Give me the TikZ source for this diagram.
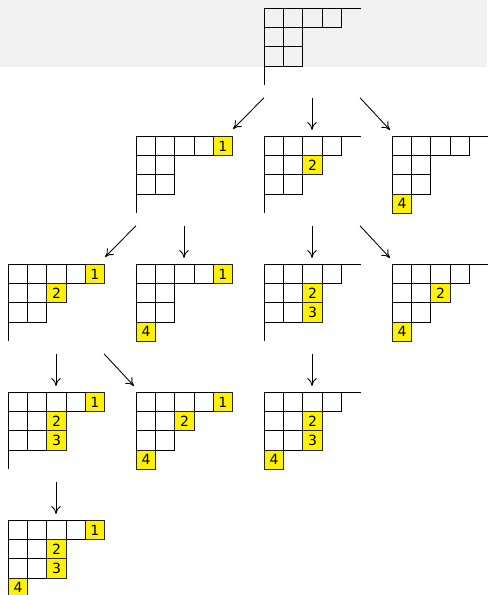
\documentclass[tikz,border=0pt]{standalone}
\usepackage{fontspec}
\setmainfont{DejaVu Sans}
\usetikzlibrary{calc,arrows.meta}
\definecolor{band}{HTML}{F1F1F1}
\tikzset{
  grid/.style={line width=0.75pt,draw=black},
  dbox/.style={inner sep=0pt,outer sep=0pt,minimum width=72pt,minimum height=57.6pt},
  ycell/.style={draw=black!85,line width=0.75pt,fill=yellow,inner sep=0pt,minimum size=14.4pt,font=\fontsize{10.5}{11}\selectfont},
  arr/.style={line width=0.65pt,-{To[length=6pt,width=7pt]}}
}
\newcommand\dg[3]{%
  \node[dbox] (#1) at (#2+48,#3+38.4) {};
  \begin{scope}[shift={(#2+0.5,#3+0.5)}]
    \draw[grid] (0,0)--(96,0) (0,0)--(0,76.8);
    \foreach \r/\c in {0/0,0/1,0/2,0/3,1/0,1/1,2/0,2/1}
      \draw[grid] (\c*19.2,\r*19.2) rectangle ++(19.2,19.2);
  \end{scope}}
\newcommand\yc[4]{%
  \node[ycell] (#1y#4) at ($(#1.north west)+(#3*19.2+10.1,#2*19.2+10.1)$) {#4};}
\begin{document}
\begin{tikzpicture}[x=0.75pt,y=-0.75pt]
\useasboundingbox (0,0) rectangle (487,595);
\fill[band] (0,0) rectangle (487,67);
% row 0
\dg{T}{264}{8}
% row 1
\dg{Aa}{136}{136} \yc{Aa}{0}{4}{1}
\dg{Ab}{264}{136} \yc{Ab}{1}{2}{2}
\dg{Ac}{392}{136} \yc{Ac}{3}{0}{4}
% row 2
\dg{Ba}{8}{264}   \yc{Ba}{0}{4}{1} \yc{Ba}{1}{2}{2}
\dg{Bb}{136}{264} \yc{Bb}{0}{4}{1} \yc{Bb}{3}{0}{4}
\dg{Bc}{264}{264} \yc{Bc}{1}{2}{2} \yc{Bc}{2}{2}{3}
\dg{Bd}{392}{264} \yc{Bd}{1}{2}{2} \yc{Bd}{3}{0}{4}
% row 3
\dg{Ca}{8}{392}   \yc{Ca}{0}{4}{1} \yc{Ca}{1}{2}{2} \yc{Ca}{2}{2}{3}
\dg{Cb}{136}{392} \yc{Cb}{0}{4}{1} \yc{Cb}{1}{2}{2} \yc{Cb}{3}{0}{4}
\dg{Cc}{264}{392} \yc{Cc}{1}{2}{2} \yc{Cc}{2}{2}{3} \yc{Cc}{3}{0}{4}
% row 4
\dg{Da}{8}{520}   \yc{Da}{0}{4}{1} \yc{Da}{1}{2}{2} \yc{Da}{2}{2}{3} \yc{Da}{3}{0}{4}
% arrows
\newcommand\al[2]{\draw[arr] ($(#1.south west)+(0,13)$) -- ($(#2.north east)+(1,-7)$);}
\newcommand\ad[2]{\draw[arr] ($(#1.south)+(0,13)$) -- ($(#2.north)+(0,-6)$);}
\newcommand\ar[2]{\draw[arr] ($(#1.south east)+(0,13)$) -- ($(#2.north west)+(-2,-6)$);}
\al{T}{Aa} \ad{T}{Ab} \ar{T}{Ac}
\al{Aa}{Ba} \ad{Aa}{Bb}
\ad{Ab}{Bc} \ar{Ab}{Bd}
\ad{Ba}{Ca} \ar{Ba}{Cb}
\ad{Bc}{Cc}
\ad{Ca}{Da}
\end{tikzpicture}
\end{document}
